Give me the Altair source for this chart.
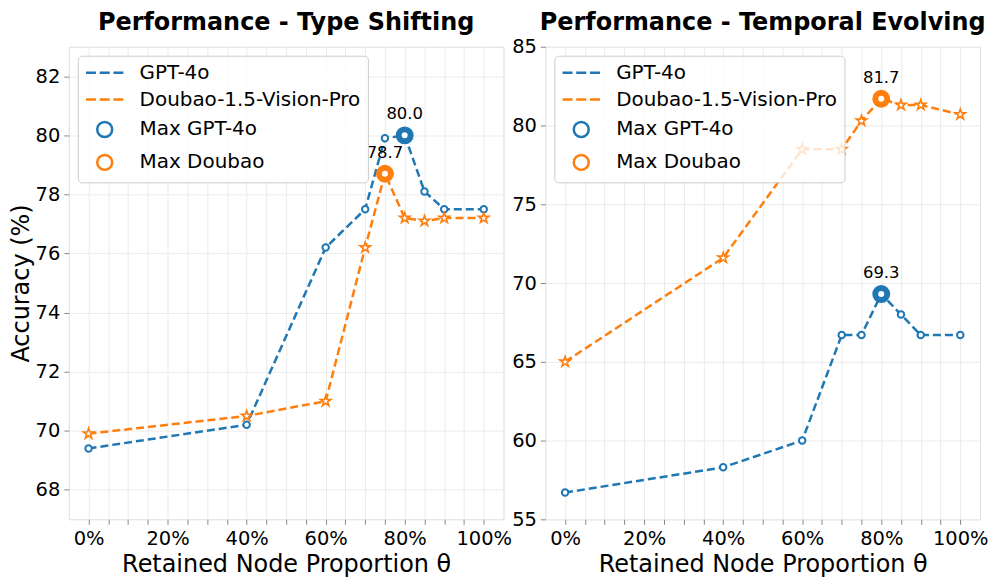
import altair as alt
import pandas as pd

# ---------------- data ----------------
x_vals = [0, 40, 60, 70, 75, 80, 85, 90, 100]

ts_gpt = [69.4, 70.2, 76.2, 77.5, 79.9, 80.0, 78.1, 77.5, 77.5]
ts_doubao = [69.9, 70.5, 71.0, 76.2, 78.7, 77.2, 77.1, 77.2, 77.2]

te_gpt = [56.7, 58.3, 60.0, 66.7, 66.7, 69.3, 68.0, 66.7, 66.7]
te_doubao = [65.0, 71.6, 78.5, 78.5, 80.3, 81.7, 81.3, 81.3, 80.7]

titles = ["Performance - Type Shifting", "Performance - Temporal Evolving"]
ts_yticks = [68, 70, 72, 74, 76, 78, 80, 82]
te_yticks = [55, 60, 65, 70, 75, 80, 85]
x_ticks = list(range(0, 101, 5))
legend_labels = ["GPT-4o", "Doubao-1.5-Vision-Pro", "Max GPT-4o", "Max Doubao"]

# ---------------- style ----------------
BLUE = "#1f77b4"
ORANGE = "#ff7f0e"
FONT = "DejaVu Sans"
DASH = "M-2.5,0L-1.17,0M-0.67,0L0.67,0M1.17,0L2.5,0"
STAR = ("M0,-1L0.2245,-0.309L0.951,-0.309L0.363,0.118L0.588,0.809L0,0.382"
        "L-0.588,0.809L-0.363,0.118L-0.951,-0.309L-0.2245,-0.309Z")
GRID = "#ebebeb"
H = 474


def panel(gpt, dou, title, ydom, yticks, ytitle, title_offset, width):
    xenc = alt.X(
        "x:Q",
        scale=alt.Scale(domain=[-5, 105], nice=False, zero=False),
        axis=alt.Axis(
            values=x_ticks,
            labelExpr="datum.value % 20 === 0 ? datum.value + '%' : ''",
            title="Retained Node Proportion θ",
            labelFont=FONT, titleFont=FONT,
            labelFontSize=19.5,
            titleFontSize=24,
            titleFontWeight="normal",
            labelPadding=5,
            titlePadding=5,
            tickSize=5,
            grid=True,
            gridColor=GRID,
            domain=False,
            labelOverlap=False,
            labelFlush=False,
        ),
    )
    yaxis = dict(
        values=yticks,
        labelFont=FONT, titleFont=FONT,
        labelFontSize=19.5,
        titleFontSize=24,
        titleFontWeight="normal",
        labelPadding=4,
        titlePadding=2,
        tickSize=5,
        grid=True,
        gridColor=GRID,
        domain=False,
        labelOverlap=False,
        labelFlush=False,
        title=ytitle if ytitle else "",
    )
    yenc = alt.Y(
        "y:Q",
        scale=alt.Scale(domain=ydom, nice=False, zero=False),
        axis=alt.Axis(**yaxis),
    )

    layers = []
    specs = [(gpt, BLUE, "circle", 42, 2.0), (dou, ORANGE, STAR, 120, 1.6)]
    for vals, color, shape, size, sw in specs:
        d = pd.DataFrame({"x": x_vals, "y": vals})
        base = alt.Chart(d)
        layers.append(
            base.mark_line(color=color, strokeDash=[8, 4], strokeWidth=2.5).encode(x=xenc, y=yenc)
        )
        layers.append(
            base.mark_point(shape=shape, color=color, filled=False, fill="white",
                            size=size, strokeWidth=sw, opacity=1).encode(x=xenc, y=yenc)
        )

    gi = max(range(len(gpt)), key=lambda i: gpt[i])
    di = max(range(len(dou)), key=lambda i: dou[i])
    mdf = pd.DataFrame({
        "x": [x_vals[gi], x_vals[di]],
        "y": [gpt[gi], dou[di]],
        "legend": ["Max GPT-4o", "Max Doubao"],
        "label": [f"{gpt[gi]:.1f}", f"{dou[di]:.1f}"],
    })
    leg = alt.Legend(
        title=None,
        orient="top-left",
        offset=9,
        padding=7,
        fillColor="rgba(255,255,255,0.8)",
        strokeColor="#cccccc",
        cornerRadius=4,
        labelFontSize=20,
        labelFont=FONT,
        labelColor="black",
        labelLimit=500,
        symbolSize=225,
        symbolStrokeWidth=2.5,
        symbolOffset=10,
        labelOffset=25,
        rowPadding=7,
        symbolFillColor="white",
    )
    mx = alt.Chart(mdf).mark_point(filled=False, fill="white", size=144,
                                   strokeWidth=6, opacity=1).encode(
        x=xenc, y=yenc,
        color=alt.Color("legend:N", scale=alt.Scale(domain=legend_labels,
                                                     range=[BLUE, ORANGE, BLUE, ORANGE]),
                        legend=leg),
        shape=alt.Shape("legend:N", scale=alt.Scale(domain=legend_labels,
                                                     range=[DASH, DASH, "circle", "circle"]),
                        legend=leg),
    )
    txt = alt.Chart(mdf).mark_text(dy=-13, baseline="bottom", fontSize=16.5,
                                   font=FONT, color="black").encode(
        x=xenc, y=yenc, text="label:N")

    return alt.layer(*layers, mx, txt).properties(
        width=width, height=H,
        title=alt.TitleParams(text=title, fontSize=24, fontWeight="bold", font=FONT,
                              anchor="middle", offset=title_offset, color="black"),
    )


left = panel(ts_gpt, ts_doubao, titles[0], [67, 83], ts_yticks, "Accuracy (%)", 12, 436)
right = panel(te_gpt, te_doubao, titles[1], [55, 85], te_yticks, None, 2, 436)

chart = alt.hconcat(left, right, spacing=42, bounds="flush").resolve_scale(
    color="independent", shape="independent"
).resolve_legend(color="independent", shape="independent").properties(
    padding={"top": 1, "left": 0, "right": 0, "bottom": 0}
).configure_view(
    stroke="#333333", strokeWidth=1.25
).configure_axis(
    labelFont=FONT, titleFont=FONT, labelColor="black", titleColor="black",
    tickColor="#333333", titleFontWeight="normal",
).configure(background="white", font=FONT)

chart.save("out.html", embed_options={"renderer": "svg", "actions": False})
